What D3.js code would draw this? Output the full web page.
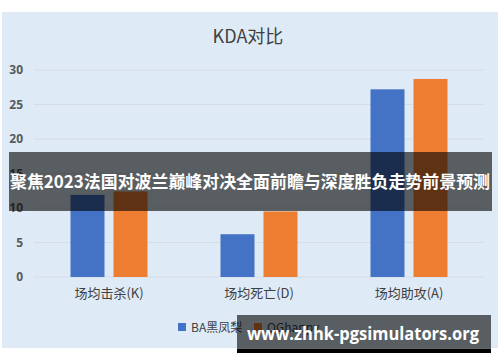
<!DOCTYPE html>
<html>
<head>
<meta charset="utf-8">
<script src="https://cdn.jsdelivr.net/npm/d3@7"></script>
<style>
  body { margin: 0; background: #fff; }
  svg { display: block; font-family: "Noto Sans CJK SC", "Noto Sans", sans-serif; }
</style>
</head>
<body>
<div id="chart"></div>
<script>
// chart data
const categories = ["场均击杀(K)", "场均死亡(D)", "场均助攻(A)"];
const seriesNames = ["BA黑凤梨", "QGhappy"];
const baValues = [11.9, 6.2, 27.2];
const qgValues = [12.4, 9.5, 28.7];
const yTicks = [0, 5, 10, 15, 20, 25, 30];
const colors = ["#4472C4", "#ED7D31"];

const width = 500, height = 362;
const svg = d3.select("#chart").append("svg")
    .attr("width", width)
    .attr("height", height);

//Panel background
svg.append("rect")
    .attr("x", 2).attr("y", 12)
    .attr("width", 496).attr("height", 336)
    .attr("fill", "#DEEBF7");

svg.append("text")
    .attr("x", 248).attr("y", 43)
    .attr("text-anchor", "middle")
    .attr("font-size", "18px")
    .attr("fill", "#404040")
    .text("KDA对比");

const plot = { left: 34, right: 484, top: 70, bottom: 277 };

const xScale = d3.scaleBand()
    .domain(categories)
    .range([plot.left, plot.right]);
const yScale = d3.scaleLinear()
    .domain([0, 30])
    .range([plot.bottom, plot.top]);

//Grid lines
svg.append("g")
    .selectAll("line")
    .data(yTicks)
    .enter().append("line")
    .attr("x1", plot.left).attr("x2", plot.right)
    .attr("y1", d => yScale(d)).attr("y2", d => yScale(d))
    .attr("stroke", "#D5DCE4")
    .attr("stroke-width", 1);

// y axis labels, no line
const yAxis = svg.append("g")
    .attr("transform", "translate(" + (plot.left - 11) + ",0)")
    .call(d3.axisLeft(yScale).tickValues(yTicks).tickSize(0).tickPadding(0));
yAxis.select(".domain").remove();
yAxis.selectAll("text")
    .attr("font-size", "12px")
    .attr("font-weight", "bold")
    .attr("fill", "#595959")
    .attr("font-family", "'Open Sans', 'Noto Sans', sans-serif");

//Bars
const barWidth = 34, barGap = 9;
const groups = svg.append("g")
    .selectAll("g")
    .data(categories)
    .enter().append("g")
    .attr("transform", d => "translate(" + (xScale(d) + xScale.bandwidth() / 2) + ",0)");

groups.each(function (d, i) {
    const vals = [baValues[i], qgValues[i]];
    d3.select(this).selectAll("rect")
        .data(vals)
        .enter().append("rect")
        .attr("x", (v, j) => j === 0 ? -barWidth - barGap / 2 : barGap / 2)
        .attr("y", v => yScale(v))
        .attr("width", barWidth)
        .attr("height", v => yScale(0) - yScale(v))
        .attr("fill", (v, j) => colors[j]);
});

// category labels
const xAxis = svg.append("g")
    .attr("transform", "translate(0," + plot.bottom + ")")
    .call(d3.axisBottom(xScale).tickSize(0).tickPadding(12));
xAxis.select(".domain").remove();
xAxis.selectAll("text")
    .attr("font-size", "13px")
    .attr("fill", "#404040")
    .attr("font-family", "'Noto Sans CJK SC', sans-serif");

//Legend
const legend = svg.append("g")
    .attr("transform", "translate(178,327)");
const legendX = [0, 76];
seriesNames.forEach(function (name, i) {
    legend.append("rect")
        .attr("x", legendX[i]).attr("y", -4)
        .attr("width", 8).attr("height", 8)
        .attr("fill", colors[i]);
    legend.append("text")
        .attr("x", legendX[i] + 13).attr("y", 5)
        .attr("font-size", "12px")
        .attr("fill", "#404040")
        .text(name);
});

//Overlay banner
svg.append("rect")
    .attr("x", 9).attr("y", 152)
    .attr("width", 483).attr("height", 59)
    .attr("fill", "rgba(0,0,0,0.6)");
svg.append("text")
    .attr("x", 250).attr("y", 188)
    .attr("text-anchor", "middle")
    .attr("font-size", "17.5px")
    .attr("font-weight", "bold")
    .attr("fill", "#fff")
    .attr("textLength", 480)
    .attr("lengthAdjust", "spacingAndGlyphs")
    .text("聚焦2023法国对波兰巅峰对决全面前瞻与深度胜负走势前景预测");

//Watermark
svg.append("rect")
    .attr("x", 237).attr("y", 315)
    .attr("width", 254).attr("height", 34)
    .attr("fill", "rgba(0,0,0,0.6)");
svg.append("rect")
    .attr("x", 237).attr("y", 349)
    .attr("width", 254).attr("height", 4)
    .attr("fill", "#000");
svg.append("text")
    .attr("x", 247).attr("y", 340)
    .attr("font-size", "17px")
    .attr("font-weight", "bold")
    .attr("fill", "#fff")
    .attr("font-family", "'Open Sans', 'Noto Sans', sans-serif")
    .attr("textLength", 232)
    .attr("lengthAdjust", "spacingAndGlyphs")
    .text("www.zhhk-pgsimulators.org");
</script>
</body>
</html>
